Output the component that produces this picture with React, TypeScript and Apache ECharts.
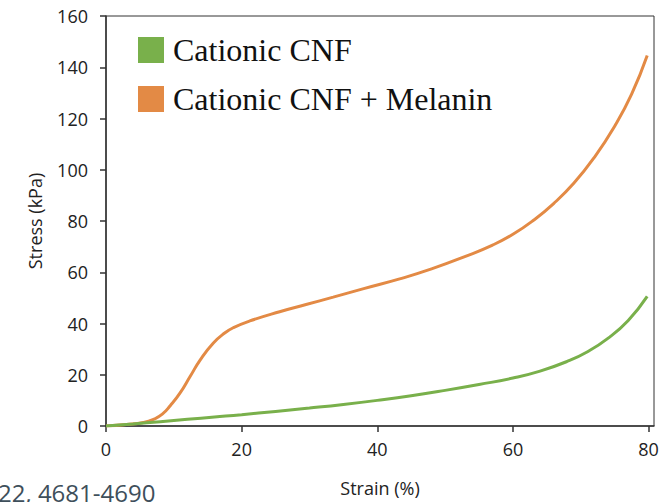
import React, { useEffect, useRef } from "react";
import * as echarts from "echarts";

const xTicks = [0, 20, 40, 60, 80];

const cnfStrain = [0, 4, 8, 12, 16, 20, 25, 30, 35, 40, 45, 50, 55, 60, 64, 68, 71, 74, 77, 79.8];
const cnfStress = [0, 0.8, 1.7, 2.6, 3.5, 4.4, 5.7, 7.0, 8.4, 10.0, 11.8, 13.9, 16.2, 18.7, 21.4, 25.2, 29.0, 34.2, 41.2, 50.6];

const melStrain = [0, 3, 5.5, 7, 8.3, 9.5, 10.9, 12.4, 13.9, 15.8, 17.5, 18.8, 21.2, 25.6, 29.5, 33.5, 38, 43.3, 48, 53, 57, 60, 63, 66, 69, 72, 75, 77.5, 79.8];
const melStress = [0, 0.6, 1.4, 2.6, 4.6, 8, 12.8, 19.3, 25.8, 32.3, 36.3, 38.4, 41, 44.6, 47.4, 50.3, 53.6, 57.4, 61.3, 66.2, 70.6, 74.8, 80.2, 86.8, 94.8, 104.8, 117.0, 129.5, 144.6];

const labels = ["Cationic CNF", "Cationic CNF + Melanin"];
const colors = ["#79b04b", "#e38a45"];

const zip = (a: number[], b: number[]) => a.map((v, i) => [v, b[i]]);

export default function App() {
  const ref = useRef<HTMLDivElement>(null);
  useEffect(() => {
    if (!ref.current) return;
    const chart = echarts.init(ref.current, undefined, { renderer: "svg" });
    const font = "'Open Sans', sans-serif";
    chart.setOption({
      animation: false,
      backgroundColor: "#ffffff",
      grid: {
        left: 106,
        right: 8,
        top: 16,
        bottom: 76,
        show: true,
        borderColor: "#333333",
        borderWidth: 1,
        containLabel: false,
      },
      legend: {
        orient: "vertical",
        left: 133,
        top: 29,
        itemWidth: 26,
        itemHeight: 26,
        itemGap: 17,
        icon: "rect",
        textStyle: {
          fontFamily: "'Liberation Serif', 'Times New Roman', serif",
          fontSize: 32,
          color: "#111111",
          padding: [0, 0, 0, 4],
        },
        data: labels,
      },
      xAxis: {
        type: "value",
        min: 0,
        max: 80.8,
        interval: 20,
        name: "Strain (%)",
        nameLocation: "middle",
        nameGap: 53,
        nameTextStyle: { fontFamily: font, fontSize: 18, color: "#222222" },
        axisLine: { show: true, onZero: false, lineStyle: { color: "#333333", width: 1.5 } },
        axisTick: { show: true, inside: false, length: 6, customValues: xTicks, lineStyle: { color: "#333333", width: 1.5 } },
        axisLabel: { margin: 14, customValues: xTicks, fontFamily: font, fontSize: 18, color: "#222222" },
        splitLine: { show: false },
      },
      yAxis: {
        type: "value",
        min: 0,
        max: 160,
        interval: 20,
        name: "Stress (kPa)",
        nameLocation: "middle",
        nameGap: 62,
        nameRotate: 90,
        nameTextStyle: { fontFamily: font, fontSize: 18, color: "#222222" },
        axisLine: { show: true, lineStyle: { color: "#333333", width: 1.5 } },
        axisTick: { show: true, inside: false, length: 6, lineStyle: { color: "#333333", width: 1.5 } },
        axisLabel: { margin: 18, fontFamily: font, fontSize: 18, color: "#222222" },
        splitLine: { show: false },
      },
      series: [
        {
          name: labels[0],
          type: "line",
          data: zip(cnfStrain, cnfStress),
          smooth: 0.5,
          showSymbol: false,
          itemStyle: { color: colors[0] },
          lineStyle: { color: colors[0], width: 3 },
          z: 3,
        },
        {
          name: labels[1],
          type: "line",
          data: zip(melStrain, melStress),
          smooth: 0.5,
          showSymbol: false,
          itemStyle: { color: colors[1] },
          lineStyle: { color: colors[1], width: 3 },
          z: 2,
        },
      ],
      graphic: [
        {
          type: "text",
          left: -2,
          top: 480,
          style: {
            text: "22, 4681-4690",
            fontFamily: font,
            fontSize: 24,
            fill: "#3e4f5b",
          },
        },
      ],
    });
    return () => chart.dispose();
  }, []);
  return <div ref={ref} style={{ width: 662, height: 502, position: "absolute", left: 0, top: 0 }} />;
}
